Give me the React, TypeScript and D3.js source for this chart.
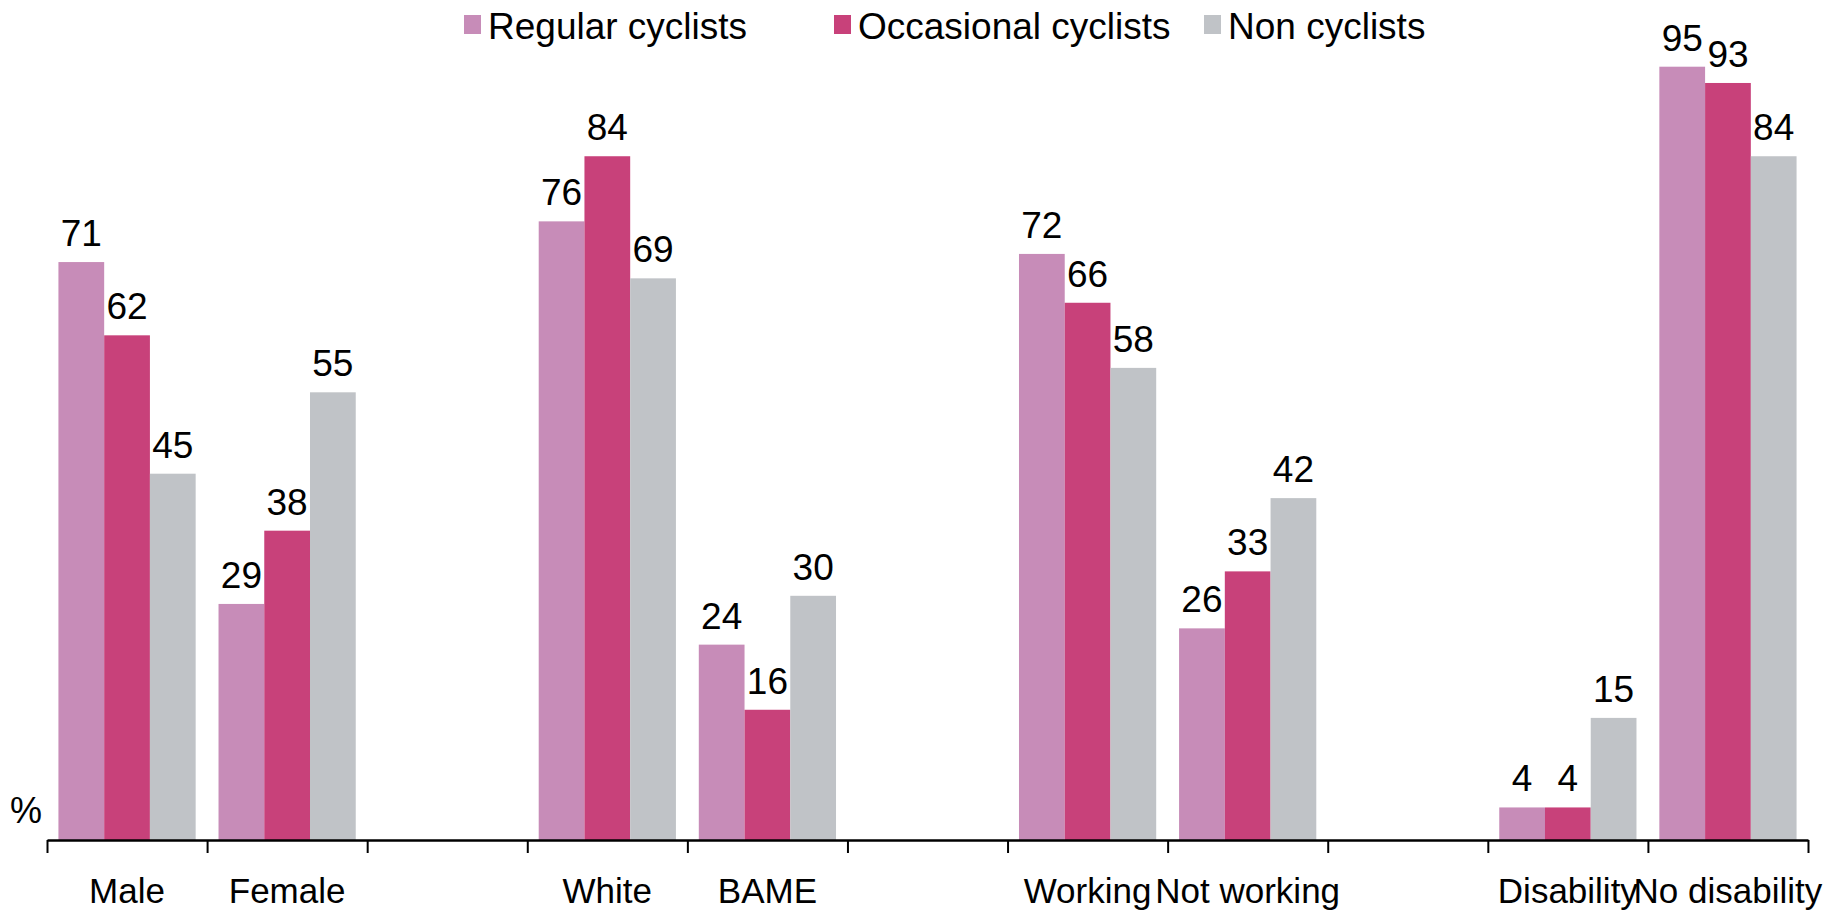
import * as d3 from 'd3';
import { useEffect, useRef } from 'react';

// null = empty slot between groups
const categories: (string | null)[] = [
  'Male',
  'Female',
  null,
  'White',
  'BAME',
  null,
  'Working',
  'Not working',
  null,
  'Disability',
  'No disability',
];

const seriesNames = ['Regular cyclists', 'Occasional cyclists', 'Non cyclists'];
const seriesColors = ['#C78CB8', '#C8417A', '#C0C3C7'];

const regular = [71, 29, null, 76, 24, null, 72, 26, null, 4, 95];
const occasional = [62, 38, null, 84, 16, null, 66, 33, null, 4, 93];
const nonCyclists = [45, 55, null, 69, 30, null, 58, 42, null, 15, 84];

const seriesValues = [regular, occasional, nonCyclists];

const WIDTH = 1834;
const HEIGHT = 910;

export default function App() {
  const svgRef = useRef<SVGSVGElement>(null);

  useEffect(() => {
    document.body.style.margin = '0';
    if (!svgRef.current) return;

    const svg = d3.select(svgRef.current);
    svg.selectAll('*').remove();

    const font = '"Liberation Sans", Arial, sans-serif';
    const fontSize = '37px';
    const left = 47;
    const right = 1808;
    const baseline = 840;

    const x = d3
      .scaleBand<number>()
      .domain(d3.range(categories.length))
      .range([left, right])
      .padding(0);
    const xInner = d3
      .scaleBand<number>()
      .domain(d3.range(seriesNames.length))
      .range([0, x.bandwidth()])
      .paddingInner(0)
      .paddingOuter(0.25);
    const y = d3.scaleLinear().domain([0, 100]).range([baseline, 26]);

    // Bars + value labels
    seriesValues.forEach((values, si) => {
      const g = svg.append('g');
      const rows = values
        .map((v, i) => ({ v, i }))
        .filter((d) => d.v !== null) as { v: number; i: number }[];

      g.selectAll('rect')
        .data(rows)
        .enter()
        .append('rect')
        .attr('x', (d) => (x(d.i) || 0) + (xInner(si) || 0))
        .attr('y', (d) => y(d.v))
        .attr('width', xInner.bandwidth())
        .attr('height', (d) => baseline - y(d.v))
        .attr('fill', seriesColors[si]);

      g.selectAll('text')
        .data(rows)
        .enter()
        .append('text')
        .attr('x', (d) => (x(d.i) || 0) + (xInner(si) || 0) + xInner.bandwidth() / 2)
        .attr('y', (d) => y(d.v) - 16)
        .attr('text-anchor', 'middle')
        .style('font-family', font)
        .style('font-size', fontSize)
        .style('fill', '#000')
        .text((d) => d.v);
    });

    // X axis: line with ticks at band edges
    const axis = svg
      .append('g')
      .attr('transform', `translate(0,${baseline})`)
      .call(
        d3
          .axisBottom(d3.scaleLinear().domain([0, categories.length]).range([left, right]))
          .tickValues(d3.range(categories.length + 1))
          .tickSize(13)
          .tickSizeOuter(0)
          .tickFormat(() => ''),
      );
    axis.select('.domain').attr('stroke', '#000').attr('stroke-width', 2.5);
    axis.selectAll('.tick line').attr('stroke', '#000').attr('stroke-width', 2);

    // Category labels
    svg
      .append('g')
      .selectAll('text')
      .data(categories.map((c, i) => ({ c, i })).filter((d) => d.c !== null))
      .enter()
      .append('text')
      .attr('x', (d) => (x(d.i) || 0) + x.bandwidth() / 2)
      .attr('y', 903)
      .attr('text-anchor', 'middle')
      .style('font-family', font)
      .style('font-size', '35px')
      .style('fill', '#000')
      .text((d) => d.c as string);

    // % unit label
    svg
      .append('text')
      .attr('x', 10)
      .attr('y', 823)
      .style('font-family', font)
      .style('font-size', '36px')
      .text('%');

    // Legend
    const legend = svg.append('g');
    seriesNames.forEach((name, i) => {
      const lx = 464 + i * 370;
      legend
        .append('rect')
        .attr('x', lx)
        .attr('y', 15)
        .attr('width', 17)
        .attr('height', 19)
        .attr('fill', seriesColors[i]);
      legend
        .append('text')
        .attr('x', lx + 24)
        .attr('y', 39)
        .style('font-family', font)
        .style('font-size', fontSize)
        .style('fill', '#000')
        .text(name);
    });
  }, []);

  return (
    <svg
      ref={svgRef}
      width={WIDTH}
      height={HEIGHT}
      style={{ display: 'block', background: '#fff' }}
    ></svg>
  );
}
